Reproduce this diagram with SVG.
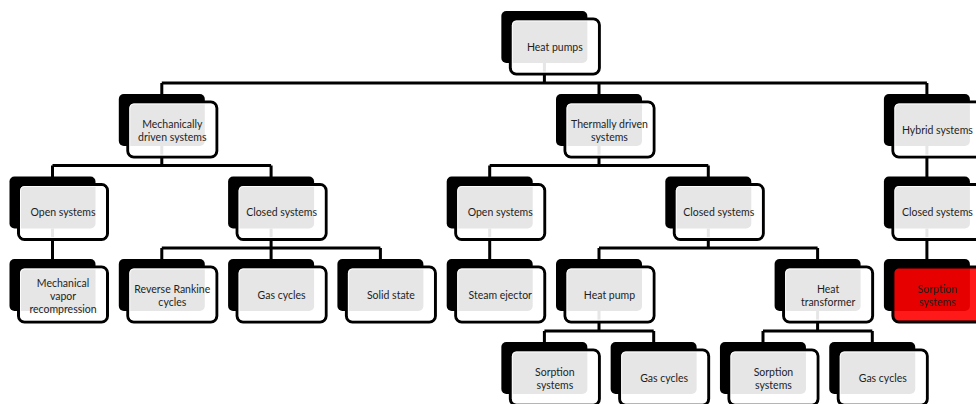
<svg xmlns="http://www.w3.org/2000/svg" width="976" height="404" viewBox="0 0 976 404">
  <style>
    .back { fill: #000; }
    .front { fill: #fff; fill-opacity: 0.9; stroke: #000; stroke-width: 3; }
    .front.hot { fill: #ff0000; fill-opacity: 0.9; }
    .glint { fill: none; stroke: #fff; stroke-width: 1; stroke-opacity: 0.85; }
    .lbl { font-family: Lato, "Liberation Sans", sans-serif; font-size: 10.5px; fill: #1e1e1e; text-anchor: middle; }
    .wire { fill: none; stroke: #000; stroke-width: 3; stroke-linejoin: miter; }
  </style>
  <defs>
    <g id="card">
      <rect class="back" x="-9" y="-8" width="86" height="52" rx="5"/>
    </g>
  </defs>
  <rect width="976" height="404" fill="#fff"/>

  <!-- connectors: drop from parent (back-card centre) to a bus, then down to each child -->
  <g id="connectors" class="wire">
    <path d="M544.4 63 V83 M161.8 83 H926.9 M161.8 83 V94 M599 83 V94 M926.9 83 V94"/>
    <path d="M161.8 146 V165.5 M52.5 165.5 H271.1 M52.5 165.5 V177 M271.1 165.5 V177"/>
    <path d="M599 146 V165.5 M489.7 165.5 H708.3 M489.7 165.5 V177 M708.3 165.5 V177"/>
    <path d="M926.9 146 V177"/>
    <path d="M52.5 228.5 V260"/>
    <path d="M271.1 228.5 V248 M161.8 248 H380.4 M161.8 248 V260 M271.1 248 V260 M380.4 248 V260"/>
    <path d="M489.7 228.5 V260"/>
    <path d="M708.3 228.5 V248 M599 248 H817.6 M599 248 V260 M817.6 248 V260"/>
    <path d="M926.9 228.5 V260"/>
    <path d="M599 311 V331 M544.4 331 H653.7 M544.4 331 V343 M653.7 331 V343"/>
    <path d="M817.6 311 V331 M763 331 H872.3 M763 331 V343 M872.3 331 V343"/>
  </g>

  <!-- level 0 -->
  <g id="heat-pumps" transform="translate(510.35,19)">
    <use href="#card"/>
    <rect class="front" width="89" height="55" rx="6"/>
    <rect class="glint" x="2" y="2" width="85" height="51" rx="4"/>
    <text class="lbl" x="44.5" y="31.5">Heat pumps</text>
  </g>

  <!-- level 1 -->
  <g id="mechanically-driven" transform="translate(127.8,102)">
    <use href="#card"/>
    <rect class="front" width="89" height="55" rx="6"/>
    <rect class="glint" x="2" y="2" width="85" height="51" rx="4"/>
    <text class="lbl" x="44.5" y="25.5">Mechanically<tspan x="44.5" dy="13">driven systems</tspan></text>
  </g>
  <g id="thermally-driven" transform="translate(565,102)">
    <use href="#card"/>
    <rect class="front" width="89" height="55" rx="6"/>
    <rect class="glint" x="2" y="2" width="85" height="51" rx="4"/>
    <text class="lbl" x="44.5" y="25.5">Thermally driven<tspan x="44.5" dy="13">systems</tspan></text>
  </g>
  <g id="hybrid" transform="translate(892.9,102)">
    <use href="#card"/>
    <rect class="front" width="89" height="55" rx="6"/>
    <rect class="glint" x="2" y="2" width="85" height="51" rx="4"/>
    <text class="lbl" x="44.5" y="31.5">Hybrid systems</text>
  </g>

  <!-- level 2 -->
  <g id="mech-open" transform="translate(18.5,184.5)">
    <use href="#card"/>
    <rect class="front" width="89" height="55" rx="6"/>
    <rect class="glint" x="2" y="2" width="85" height="51" rx="4"/>
    <text class="lbl" x="44.5" y="31.5">Open systems</text>
  </g>
  <g id="mech-closed" transform="translate(237.1,184.5)">
    <use href="#card"/>
    <rect class="front" width="89" height="55" rx="6"/>
    <rect class="glint" x="2" y="2" width="85" height="51" rx="4"/>
    <text class="lbl" x="44.5" y="31.5">Closed systems</text>
  </g>
  <g id="therm-open" transform="translate(455.7,184.5)">
    <use href="#card"/>
    <rect class="front" width="89" height="55" rx="6"/>
    <rect class="glint" x="2" y="2" width="85" height="51" rx="4"/>
    <text class="lbl" x="44.5" y="31.5">Open systems</text>
  </g>
  <g id="therm-closed" transform="translate(674.3,184.5)">
    <use href="#card"/>
    <rect class="front" width="89" height="55" rx="6"/>
    <rect class="glint" x="2" y="2" width="85" height="51" rx="4"/>
    <text class="lbl" x="44.5" y="31.5">Closed systems</text>
  </g>
  <g id="hybrid-closed" transform="translate(892.9,184.5)">
    <use href="#card"/>
    <rect class="front" width="89" height="55" rx="6"/>
    <rect class="glint" x="2" y="2" width="85" height="51" rx="4"/>
    <text class="lbl" x="44.5" y="31.5">Closed systems</text>
  </g>

  <!-- level 3 -->
  <g id="mvr" transform="translate(18.5,267)">
    <use href="#card"/>
    <rect class="front" width="89" height="55" rx="6"/>
    <rect class="glint" x="2" y="2" width="85" height="51" rx="4"/>
    <text class="lbl" x="44.5" y="19.5">Mechanical<tspan x="44.5" dy="13">vapor</tspan><tspan x="44.5" dy="13">recompression</tspan></text>
  </g>
  <g id="reverse-rankine" transform="translate(127.8,267)">
    <use href="#card"/>
    <rect class="front" width="89" height="55" rx="6"/>
    <rect class="glint" x="2" y="2" width="85" height="51" rx="4"/>
    <text class="lbl" x="44.5" y="25.5">Reverse Rankine<tspan x="44.5" dy="13">cycles</tspan></text>
  </g>
  <g id="mech-gas-cycles" transform="translate(237.1,267)">
    <use href="#card"/>
    <rect class="front" width="89" height="55" rx="6"/>
    <rect class="glint" x="2" y="2" width="85" height="51" rx="4"/>
    <text class="lbl" x="44.5" y="31.5">Gas cycles</text>
  </g>
  <g id="solid-state" transform="translate(346.4,267)">
    <use href="#card"/>
    <rect class="front" width="89" height="55" rx="6"/>
    <rect class="glint" x="2" y="2" width="85" height="51" rx="4"/>
    <text class="lbl" x="44.5" y="31.5">Solid state</text>
  </g>
  <g id="steam-ejector" transform="translate(455.7,267)">
    <use href="#card"/>
    <rect class="front" width="89" height="55" rx="6"/>
    <rect class="glint" x="2" y="2" width="85" height="51" rx="4"/>
    <text class="lbl" x="44.5" y="31.5">Steam ejector</text>
  </g>
  <g id="heat-pump" transform="translate(565,267)">
    <use href="#card"/>
    <rect class="front" width="89" height="55" rx="6"/>
    <rect class="glint" x="2" y="2" width="85" height="51" rx="4"/>
    <text class="lbl" x="44.5" y="31.5">Heat pump</text>
  </g>
  <g id="heat-transformer" transform="translate(783.6,267)">
    <use href="#card"/>
    <rect class="front" width="89" height="55" rx="6"/>
    <rect class="glint" x="2" y="2" width="85" height="51" rx="4"/>
    <text class="lbl" x="44.5" y="25.5">Heat<tspan x="44.5" dy="13">transformer</tspan></text>
  </g>
  <g id="hybrid-sorption" transform="translate(892.9,267)">
    <use href="#card"/>
    <rect class="front hot" width="89" height="55" rx="6"/>
    <text class="lbl" x="44.5" y="25.5">Sorption<tspan x="44.5" dy="13">systems</tspan></text>
  </g>

  <!-- level 4 -->
  <g id="hp-sorption" transform="translate(510.35,350)">
    <use href="#card"/>
    <rect class="front" width="89" height="55" rx="6"/>
    <rect class="glint" x="2" y="2" width="85" height="51" rx="4"/>
    <text class="lbl" x="44.5" y="25.5">Sorption<tspan x="44.5" dy="13">systems</tspan></text>
  </g>
  <g id="hp-gas-cycles" transform="translate(619.65,350)">
    <use href="#card"/>
    <rect class="front" width="89" height="55" rx="6"/>
    <rect class="glint" x="2" y="2" width="85" height="51" rx="4"/>
    <text class="lbl" x="44.5" y="31.5">Gas cycles</text>
  </g>
  <g id="ht-sorption" transform="translate(728.95,350)">
    <use href="#card"/>
    <rect class="front" width="89" height="55" rx="6"/>
    <rect class="glint" x="2" y="2" width="85" height="51" rx="4"/>
    <text class="lbl" x="44.5" y="25.5">Sorption<tspan x="44.5" dy="13">systems</tspan></text>
  </g>
  <g id="ht-gas-cycles" transform="translate(838.25,350)">
    <use href="#card"/>
    <rect class="front" width="89" height="55" rx="6"/>
    <rect class="glint" x="2" y="2" width="85" height="51" rx="4"/>
    <text class="lbl" x="44.5" y="31.5">Gas cycles</text>
  </g>
</svg>
